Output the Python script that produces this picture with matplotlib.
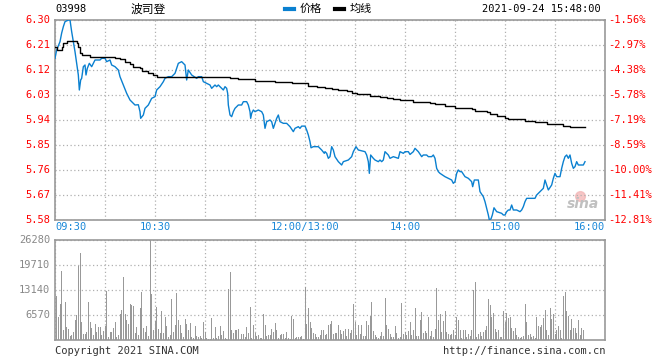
import numpy as np
import matplotlib
matplotlib.use('Agg')
import matplotlib.pyplot as plt

plt.rcParams['font.family'] = ['DejaVu Sans Mono', 'Noto Sans CJK SC']

# 波司登 03998 intraday, 2021-09-24 (minutes from 09:30, lunch break removed)
prev_close = 6.40
price_ticks = [5.58, 5.67, 5.76, 5.85, 5.94, 6.03, 6.12, 6.21, 6.30]
vol_ticks = [6570, 13140, 19710, 26280]
time_pos = [0, 60, 150, 210, 270, 330]
time_labels = ['09:30', '10:30', '12:00/13:00', '14:00', '15:00', '16:00']

price_min = [0, 1, 3, 4, 5, 6, 8, 9, 10, 11, 12, 13, 14, 14.6, 15.4, 16, 17, 18, 18.6, 19.4,
             20.6, 22, 23, 24, 27, 28, 30, 31, 33, 34, 36, 37, 38, 39, 41, 43, 45, 47, 48, 50,
             51, 51.4, 53, 54, 56, 58, 60, 61, 63, 65, 66, 68, 70, 72, 73, 74, 76, 78, 79, 80,
             82, 85, 86, 88, 89, 91, 93, 94, 96, 97, 98, 100, 101, 102, 103, 103.6, 104, 105, 106, 107,
             108, 110, 112, 113, 115, 116, 117, 117.4, 118, 119, 120, 122, 124, 125, 126, 127, 129, 130, 131, 132,
             133, 134, 135, 137, 139, 141, 143, 144, 146, 147, 148, 150, 151, 152, 153, 153.6, 155, 158, 159, 160,
             161.6, 162, 163, 164, 165, 166, 167, 168, 170, 172, 173, 176, 178, 179, 180.6, 182, 186, 187, 188, 188.6,
             189.4, 191, 192, 194, 195, 196, 197, 198, 200, 201, 203, 206, 207, 209, 210, 212, 213, 215, 216, 218,
             220, 221, 223, 224, 226, 227, 228, 229, 230, 231, 234, 236, 238, 239, 240, 241, 242, 243, 244, 246,
             248, 250, 250.6, 251.6, 254, 254.4, 255, 257, 258, 259, 260, 260.6, 261.6, 262.4, 263.4, 265, 268, 269, 270, 271,
             272, 273, 274, 275, 277, 279, 280, 281, 282, 283, 288, 289, 291, 293, 294, 295, 296, 298, 299, 300,
             301, 303, 304, 305, 306, 307, 308, 309, 310, 311, 312, 313, 314, 317, 318]
price = [6.162, 6.192, 6.222, 6.253, 6.276, 6.294, 6.300, 6.300, 6.258, 6.222, 6.186, 6.145, 6.102, 6.048, 6.084, 6.090, 6.132, 6.138, 6.102, 6.126,
         6.144, 6.132, 6.144, 6.156, 6.156, 6.162, 6.162, 6.150, 6.156, 6.138, 6.132, 6.126, 6.120, 6.096, 6.066, 6.036, 6.012, 6.000, 5.994, 5.995,
         5.970, 5.946, 5.958, 5.982, 5.994, 6.018, 6.024, 6.048, 6.060, 6.078, 6.090, 6.096, 6.096, 6.108, 6.126, 6.144, 6.150, 6.138, 6.084, 6.120,
         6.102, 6.090, 6.096, 6.096, 6.078, 6.072, 6.066, 6.054, 6.066, 6.060, 6.066, 6.054, 6.048, 6.060, 6.054, 6.036, 5.994, 5.958, 5.952, 5.970,
         5.982, 5.994, 5.994, 6.006, 6.006, 5.994, 5.970, 5.946, 5.964, 5.976, 5.970, 5.976, 5.970, 5.958, 5.910, 5.934, 5.940, 5.934, 5.910, 5.928,
         5.946, 5.958, 5.934, 5.928, 5.928, 5.916, 5.898, 5.910, 5.916, 5.910, 5.918, 5.918, 5.904, 5.886, 5.862, 5.840, 5.844, 5.844, 5.838, 5.832,
         5.820, 5.826, 5.820, 5.802, 5.808, 5.844, 5.832, 5.808, 5.790, 5.778, 5.790, 5.796, 5.808, 5.826, 5.844, 5.832, 5.826, 5.814, 5.790, 5.748,
         5.814, 5.802, 5.796, 5.790, 5.796, 5.790, 5.796, 5.826, 5.814, 5.802, 5.808, 5.802, 5.826, 5.820, 5.826, 5.826, 5.816, 5.826, 5.838, 5.826,
         5.808, 5.814, 5.814, 5.808, 5.808, 5.814, 5.802, 5.766, 5.754, 5.748, 5.736, 5.730, 5.724, 5.712, 5.718, 5.748, 5.760, 5.754, 5.754, 5.736,
         5.730, 5.718, 5.700, 5.724, 5.724, 5.706, 5.682, 5.664, 5.646, 5.622, 5.598, 5.580, 5.584, 5.598, 5.624, 5.610, 5.604, 5.598, 5.598, 5.610,
         5.616, 5.616, 5.634, 5.616, 5.616, 5.610, 5.616, 5.628, 5.646, 5.658, 5.658, 5.670, 5.682, 5.694, 5.724, 5.706, 5.688, 5.706, 5.730, 5.748,
         5.736, 5.736, 5.766, 5.790, 5.808, 5.814, 5.802, 5.814, 5.784, 5.766, 5.772, 5.790, 5.778, 5.778, 5.790]

avg_min = [0, 1, 3, 4, 5, 7, 11, 13, 14, 15, 16, 20, 21, 30, 36, 39, 42, 45, 47, 51,
           52, 56, 59, 61, 104, 105, 110, 118, 120, 126, 132, 142, 150, 152, 157, 162, 166, 170, 175, 178,
           181, 184, 189, 195, 199, 203, 207, 210, 215, 219, 225, 228, 234, 240, 244, 250, 252, 259, 261, 265,
           270, 272, 277, 282, 288, 295, 300, 305, 309, 318]
avg_price = [6.204, 6.192, 6.192, 6.204, 6.216, 6.224, 6.224, 6.216, 6.204, 6.180, 6.174, 6.174, 6.168, 6.168, 6.162, 6.159, 6.150, 6.140, 6.132, 6.128,
             6.116, 6.108, 6.102, 6.096, 6.096, 6.090, 6.087, 6.087, 6.082, 6.080, 6.077, 6.072, 6.072, 6.063, 6.060, 6.056, 6.052, 6.048, 6.044, 6.038,
             6.035, 6.032, 6.027, 6.024, 6.018, 6.016, 6.013, 6.011, 6.006, 6.004, 6.000, 5.997, 5.990, 5.984, 5.982, 5.980, 5.973, 5.970, 5.960, 5.955,
             5.948, 5.944, 5.944, 5.936, 5.934, 5.927, 5.925, 5.920, 5.914, 5.914]

volume = [11476, 6044, 9461, 18221, 2628, 9986, 3416, 2978, 1139, 1402, 2015, 5256, 6482, 19535, 22864, 4730, 1577, 1577, 2015, 9986,
          4730, 3154, 1402, 4205, 2102, 3416, 3329, 1314, 2278, 3592, 12965, 701, 2015, 2015, 3154, 4730, 788, 1402, 6833, 7884,
          16556, 6833, 5256, 4205, 9461, 9110, 8935, 1840, 3416, 1402, 8410, 12614, 3154, 2102, 3679, 1051, 26280, 12089, 2628, 4906,
          8672, 2891, 1752, 7621, 1752, 6044, 3679, 788, 1402, 10775, 2015, 3854, 12352, 5256, 3942, 1840, 788, 5519, 4205, 2716,
          4468, 788, 526, 3679, 1051, 876, 964, 526, 4730, 2102, 438, 175, 263, 5782, 438, 3416, 526, 1051, 3679, 1402,
          2365, 526, 350, 13403, 17870, 2628, 1752, 2628, 2628, 2891, 175, 1577, 1577, 788, 3416, 1840, 8672, 526, 3854, 1840,
          964, 1314, 526, 526, 6833, 3942, 1139, 1314, 1314, 2978, 2102, 4468, 2628, 526, 1314, 1577, 1577, 526, 2102, 526,
          263, 6395, 5519, 526, 788, 788, 788, 1051, 263, 13928, 4205, 8410, 4730, 3154, 1840, 1577, 788, 701, 1314, 2628,
          2628, 1314, 1577, 3854, 4205, 4906, 1577, 1840, 1840, 3854, 2628, 1577, 2278, 2891, 1051, 2891, 1840, 2628, 9461, 4730,
          1314, 3854, 1577, 3854, 1051, 1051, 4906, 3854, 6307, 9986, 2365, 1314, 788, 526, 1051, 2102, 1051, 11038, 3854, 2891,
          1577, 788, 788, 3679, 1840, 526, 788, 9724, 1577, 2102, 1402, 2365, 4730, 1314, 2628, 8410, 1051, 1051, 5256, 7358,
          1840, 2365, 1752, 6044, 1051, 2365, 788, 2891, 13666, 5256, 6833, 2102, 4993, 7621, 2102, 1577, 1314, 1577, 2628, 1314,
          6044, 5256, 2628, 526, 2628, 2628, 788, 1577, 1051, 2628, 13140, 15242, 788, 1577, 2102, 1051, 2102, 2628, 3679, 10775,
          9286, 6044, 7096, 2891, 2102, 2628, 788, 788, 7621, 4730, 7096, 5869, 6044, 3154, 2365, 3154, 1314, 788, 526, 788,
          1051, 9461, 4730, 1314, 1577, 788, 1051, 526, 6044, 3679, 3416, 3942, 5782, 7884, 2628, 1314, 8410, 5519, 6833, 1577,
          2628, 3767, 2628, 526, 11563, 12614, 7621, 6395, 2628, 5519, 3154, 3154, 1752, 5256, 1314, 3154, 2628]
vol_min = np.arange(1, len(volume) + 1)

frame = '#999999'
grid_kw = dict(color='#b0b0b0', linestyle=(0, (1, 2)), linewidth=0.9)

fig = plt.figure(figsize=(6.6, 3.6), dpi=100)
ax = fig.add_axes([55 / 660, 140 / 360, 550 / 660, 200 / 360])
axv = fig.add_axes([55 / 660, 20 / 360, 550 / 660, 100 / 360])

# price panel
ax.plot(price_min, price, color='#0a80d0', linewidth=1.0, zorder=3)
ax.plot(avg_min, avg_price, color='black', linewidth=1.0, drawstyle='steps-post', zorder=3)
ax.set_xlim(0, 330)
ax.set_ylim(5.58, 6.30)
ax.set_xticks(np.arange(0, 331, 30))
ax.set_yticks(price_ticks)
ax.grid(True, **grid_kw)
ax.tick_params(length=0, labelbottom=False, labelleft=False)
for s in ax.spines.values():
    s.set_color(frame)
    s.set_linewidth(1.2)

for p in price_ticks:
    ax.text(-3, p, f'{p:.2f}', color='red', fontsize=7.5, ha='right', va='center',
            transform=ax.transData, clip_on=False)
    pct = (p / prev_close - 1) * 100
    ax.text(332, p, f'{pct:.2f}%', color='red', fontsize=7.5, ha='left', va='center',
            transform=ax.transData, clip_on=False)

aligns = ['left', 'center', 'center', 'center', 'center', 'right']
for pos, lab, ha in zip(time_pos, time_labels, aligns):
    ax.text(pos, -0.035, lab, color='#1a88d8', fontsize=7.5, ha=ha, va='center',
            transform=ax.get_xaxis_transform(), clip_on=False)

# sina watermark
ax.plot([0.955], [0.12], 'o', color='#f4b8b8', markersize=7, transform=ax.transAxes,
        zorder=1, alpha=0.8)
ax.text(0.99, 0.045, 'sina', color='#c0c0c0', fontsize=10, fontweight='bold', style='italic',
        family='DejaVu Sans', ha='right', va='bottom', transform=ax.transAxes, zorder=1)

# volume panel
axv.bar(vol_min, volume, width=0.6, color='#999999', linewidth=0, zorder=3)
axv.set_xlim(0, 330)
axv.set_ylim(0, 26280)
axv.set_xticks(np.arange(0, 331, 30))
axv.set_yticks(vol_ticks)
axv.grid(True, **grid_kw)
axv.tick_params(length=0, labelbottom=False, labelleft=False)
for s in axv.spines.values():
    s.set_color(frame)
    s.set_linewidth(1.2)
for v in vol_ticks:
    axv.text(-3, v, str(v), color='#888888', fontsize=7.5, ha='right', va='center',
             transform=axv.transData, clip_on=False)

# header and footer
fig.text(55 / 660, 1 - 9 / 360, '03998', fontsize=7.5, ha='left', va='center')
fig.text(148 / 660, 1 - 9 / 360, '波司登', fontsize=8.5, ha='center', va='center',
         family=['Noto Sans CJK SC'])
fig.add_artist(plt.Line2D([285 / 660, 294 / 660], [1 - 9 / 360] * 2, color='#0a80d0', linewidth=3))
fig.text(300 / 660, 1 - 9 / 360, '价格', fontsize=8, ha='left', va='center', family=['Noto Sans CJK SC'])
fig.add_artist(plt.Line2D([335 / 660, 344 / 660], [1 - 9 / 360] * 2, color='black', linewidth=3))
fig.text(350 / 660, 1 - 9 / 360, '均线', fontsize=8, ha='left', va='center', family=['Noto Sans CJK SC'])
fig.text(601 / 660, 1 - 9 / 360, '2021-09-24 15:48:00', fontsize=7.5, ha='right', va='center')
fig.text(55 / 660, 1 - 351 / 360, 'Copyright 2021 SINA.COM', fontsize=7.5, ha='left', va='center', color='#333333')
fig.text(605 / 660, 1 - 351 / 360, 'http://finance.sina.com.cn', fontsize=7.5, ha='right', va='center', color='#333333')

fig.savefig('out.png', dpi=100, facecolor='white')
